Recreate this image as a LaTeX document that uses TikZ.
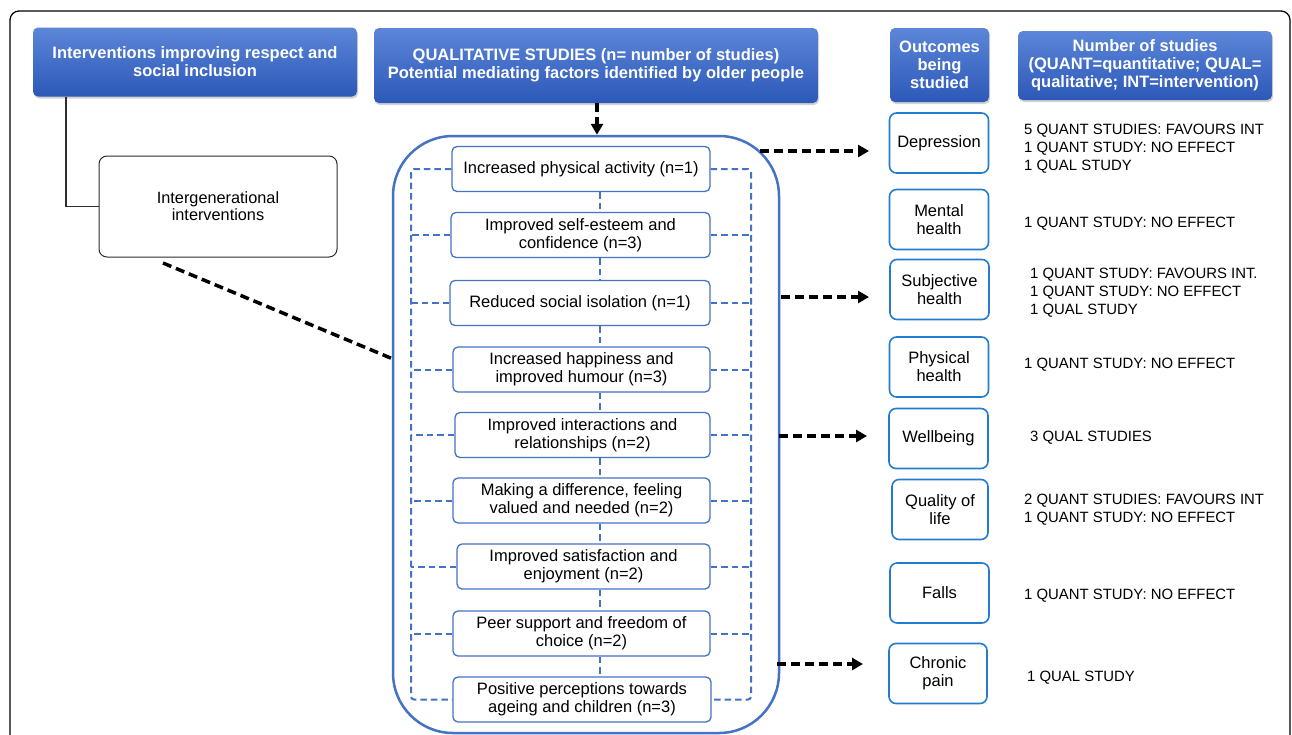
\documentclass[tikz,border=0pt]{standalone}
\usepackage{fontspec}
\setmainfont{Liberation Sans}
\usetikzlibrary{arrows.meta,shadows,calc}
\definecolor{hdrtop}{RGB}{92,134,216}
\definecolor{hdrbot}{RGB}{44,88,184}
\definecolor{fblue}{RGB}{68,114,196}
\definecolor{oblue}{RGB}{36,124,206}
\definecolor{gline}{RGB}{45,45,45}
\begin{document}
\begin{tikzpicture}[x=1pt,y=-1pt,
  hdr/.style={rounded corners=5pt, top color=hdrtop, bottom color=hdrbot, draw=none, text=white,
    font=\fontsize{16.5}{18}\selectfont\bfseries, align=center, inner sep=0pt,
    drop shadow={opacity=0.35, shadow xshift=1pt, shadow yshift=-2pt}},
  fbox/.style={draw=fblue, line width=1.3pt, rounded corners=5pt, minimum height=45pt, align=center,
    inner sep=0pt, font=\fontsize{16.5}{18}\selectfont, fill=white},
  obox/.style={draw=oblue, line width=1.6pt, rounded corners=7pt, minimum width=99pt, minimum height=60pt,
    align=center, inner sep=0pt, font=\fontsize{16.5}{18}\selectfont},
  res/.style={anchor=west, align=left, inner sep=0pt, font=\fontsize{14.9}{18}\selectfont},
  bdash/.style={draw=fblue, line width=2pt, dash pattern=on 6.5pt off 4pt},
  bk/.style={line width=3.5pt, dash pattern=on 9pt off 5pt},
  bkarr/.style={bk, -{Triangle[length=11pt,width=12pt]}},
]
\clip (0,0) rectangle (1292,734);
\fill[white] (0,0) rectangle (1292,734);
% outer frame
\draw[line width=1.3pt, rounded corners=9pt] (10,11) rectangle (1290,780);

% headers
\node[hdr, minimum width=324pt, minimum height=69pt] (h1) at (195,62)
  {Interventions improving respect and\\social inclusion};
\node[hdr, minimum width=444pt, minimum height=75pt] (h2) at (596,65.5)
  {QUALITATIVE STUDIES (n= number of studies)\\Potential mediating factors identified by older people};
\node[hdr, minimum width=99pt, minimum height=74pt] (h3) at (939.5,65)
  {Outcomes\\being\\studied};
\node[hdr, minimum width=254pt, minimum height=69pt] (h4) at (1145,65.5)
  {Number of studies\\(QUANT=quantitative; QUAL=\\qualitative; INT=intervention)};

% intergenerational
\node[draw=gline, line width=1pt, rounded corners=8pt, minimum width=238pt, minimum height=101pt,
  align=center, inner sep=0pt, font=\fontsize{16.3}{17}\selectfont] (ib) at (218,206.5)
  {Intergenerational\\interventions};
\coordinate (lx) at (66,0);
\draw[gline, line width=1.5pt] (h1.south -| lx) |- (ib.west);

% container
\node[draw=fblue, line width=2.5pt, rounded corners=60pt, minimum width=386pt, minimum height=597pt,
  inner sep=0pt] (cont) at (586,434.5) {};
\coordinate (ax) at (597,0);
\draw[bkarr] (h2.south -| ax) -- (cont.north -| ax);
\coordinate (igs) at (163,263);
\coordinate (ige) at (393,359);
\draw[bk] (igs) -- (ige);

% factor boxes
\node[fbox, minimum width=258pt] (f1) at (581,169) {Increased physical activity (n=1)};
\node[fbox, minimum width=259pt] (f2) at (580.5,235) {Improved self-esteem and\\confidence (n=3)};
\node[fbox, minimum width=260pt] (f3) at (580,303) {Reduced social isolation (n=1)};
\node[fbox, minimum width=257pt] (f4) at (581.5,369.5) {Increased happiness and\\improved humour (n=3)};
\node[fbox, minimum width=255pt] (f5) at (582.5,435) {Improved interactions and\\relationships (n=2)};
\node[fbox, minimum width=257pt] (f6) at (581.5,500.5) {Making a difference, feeling\\valued and needed (n=2)};
\node[fbox, minimum width=253pt] (f7) at (583.5,566.5) {Improved satisfaction and\\enjoyment (n=2)};
\node[fbox, minimum width=257pt] (f8) at (581.5,633.5) {Peer support and freedom of\\choice (n=2)};
\node[fbox, minimum width=258pt] (f9) at (582,699.5) {Positive perceptions towards\\ageing and children (n=3)};

% dashed links between factor boxes
\coordinate (vc) at (600,0);
\foreach \a/\b in {f1/f2,f2/f3,f3/f4,f4/f5,f5/f6,f6/f7,f7/f8,f8/f9}
  \draw[bdash] (\a.south -| vc) -- (\b.north -| vc);

% brackets
\coordinate (bl) at (411,0);
\coordinate (br) at (751,0);
\draw[bdash, rounded corners=3pt] (f1.west) -- (f1.west -| bl) -- (f9.west -| bl) -- (f9.west);
\draw[bdash, rounded corners=3pt] (f1.east) -- (f1.east -| br) -- (f9.east -| br) -- (f9.east);
\foreach \f in {f2,f3,f4,f5,f6,f7,f8} {
  \draw[bdash] (\f.west) -- (\f.west -| bl);
  \draw[bdash] (\f.east) -- (\f.east -| br);
}

% outcome boxes
\node[obox] (o1) at (939,143) {Depression};
\node[obox] (o2) at (939,219.5) {Mental\\health};
\node[obox] (o3) at (939.5,289.5) {Subjective\\health};
\node[obox] (o4) at (939,367) {Physical\\health};
\node[obox] (o5) at (938.5,438.5) {Wellbeing};
\node[obox, minimum width=96pt] (o6) at (940,509.5) {Quality of\\life};
\node[obox] (o7) at (939.5,593) {Falls};
\node[obox, minimum width=98pt] (o8) at (938,673.5) {Chronic\\pain};

% arrows from container to outcomes
\coordinate (a1s) at (760,151); \coordinate (a1e) at (869,151);
\coordinate (a2s) at (781,297); \coordinate (a2e) at (869,297);
\coordinate (a3s) at (779,436); \coordinate (a3e) at (867,436);
\coordinate (a4s) at (777,664); \coordinate (a4e) at (863,664);
\draw[bkarr] (a1s) -- (a1e);
\draw[bkarr] (a2s) -- (a2e);
\draw[bkarr] (a3s) -- (a3e);
\draw[bkarr] (a4s) -- (a4e);

% results text
\node[res] (r1) at (1024,149) {5 QUANT STUDIES: FAVOURS INT\\1 QUANT STUDY: NO EFFECT\\1 QUAL STUDY};
\node[res] (r2) at (1024,224) {1 QUANT STUDY: NO EFFECT};
\node[res] (r3) at (1030,293) {1 QUANT STUDY: FAVOURS INT.\\1 QUANT STUDY: NO EFFECT\\1 QUAL STUDY};
\node[res] (r4) at (1024,365) {1 QUANT STUDY: NO EFFECT};
\node[res] (r5) at (1030,438) {3 QUAL STUDIES};
\node[res] (r6) at (1024,510) {2 QUANT STUDIES: FAVOURS INT\\1 QUANT STUDY: NO EFFECT};
\node[res] (r7) at (1024,596) {1 QUANT STUDY: NO EFFECT};
\node[res] (r8) at (1027,678) {1 QUAL STUDY};
\end{tikzpicture}
\end{document}
